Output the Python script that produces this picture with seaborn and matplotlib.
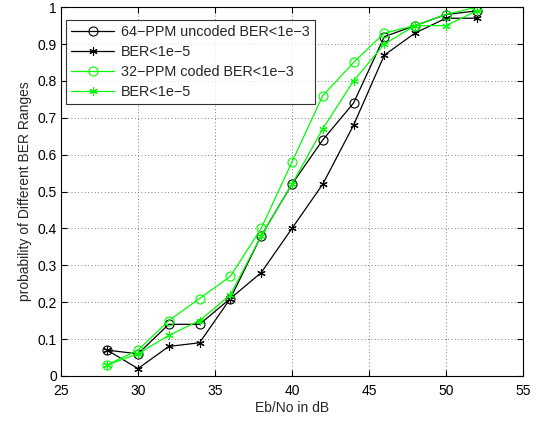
import matplotlib
matplotlib.use("Agg")
import matplotlib.pyplot as plt
import seaborn as sns
import pandas as pd

snr = [28, 30, 32, 34, 36, 38, 40, 42, 44, 46, 48, 50, 52]
ppm64_e3 = [0.07, 0.06, 0.14, 0.14, 0.21, 0.38, 0.52, 0.64, 0.74, 0.92, 0.95, 0.98, 0.99]
ppm64_e5 = [0.07, 0.02, 0.08, 0.09, 0.21, 0.28, 0.40, 0.52, 0.68, 0.87, 0.93, 0.97, 0.97]
ppm32_e3 = [0.03, 0.07, 0.15, 0.21, 0.27, 0.40, 0.58, 0.76, 0.85, 0.93, 0.95, 0.98, 1.00]
ppm32_e5 = [0.03, 0.06, 0.11, 0.15, 0.22, 0.38, 0.52, 0.67, 0.80, 0.90, 0.95, 0.95, 0.99]
labels = ["64\u2212PPM uncoded BER<1e\u22123", "BER<1e\u22125",
          "32\u2212PPM coded BER<1e\u22123", "BER<1e\u22125"]

sns.set_style("white")
plt.rcParams['font.family'] = ['Liberation Sans', 'DejaVu Sans']

fig = plt.figure(figsize=(5.47, 4.21), dpi=100)
ax = fig.add_axes([0.1115, 0.107, 0.8445, 0.876])

series = [(ppm64_e3, 'black', 'o'), (ppm64_e5, 'black', '*'),
          (ppm32_e3, '#00ff00', 'o'), (ppm32_e5, '#00ff00', '*')]
for (vals, col, mk), lab in zip(series, labels):
    df = pd.DataFrame({'x': snr, 'y': vals})
    if mk == 'o':
        sns.lineplot(data=df, x='x', y='y', ax=ax, color=col, lw=0.9, marker='o',
                     markersize=6.5, markerfacecolor='none', markeredgecolor=col,
                     markeredgewidth=0.8, label=lab)
    else:
        sns.lineplot(data=df, x='x', y='y', ax=ax, color=col, lw=0.9, marker=(6, 2, 0),
                     markersize=6, markeredgecolor=col, markeredgewidth=0.8, label=lab)

ax.set_xlim(25, 55)
ax.set_ylim(0, 1)
ax.set_xticks(range(25, 56, 5))
ax.set_yticks([i / 10 for i in range(11)])
ax.set_yticklabels(['0', '0.1', '0.2', '0.3', '0.4', '0.5', '0.6', '0.7', '0.8', '0.9', '1'])
ax.grid(True, linestyle=(0, (1, 3)), color='#555555', lw=0.6)
for s in ax.spines.values():
    s.set_color('black')
    s.set_linewidth(0.8)
ax.tick_params(axis='both', direction='in', length=4, labelsize=10, colors='black',
               top=True, right=True, bottom=True, left=True)
ax.tick_params(axis='x', pad=6)
ax.tick_params(axis='y', pad=3)
ax.set_xlabel("Eb/No in dB", fontsize=10, labelpad=2)
ax.set_ylabel("probability of Different BER Ranges", fontsize=10, labelpad=4)

leg = ax.legend(loc='upper left', bbox_to_anchor=(0.0108, 0.965), borderaxespad=0,
                fontsize=10.4, frameon=True, fancybox=False,
                edgecolor='black', handlelength=3.0, handletextpad=0.45,
                labelspacing=0.42, borderpad=0.35)
leg.get_frame().set_linewidth(0.8)

fig.savefig("out.png", dpi=100)
